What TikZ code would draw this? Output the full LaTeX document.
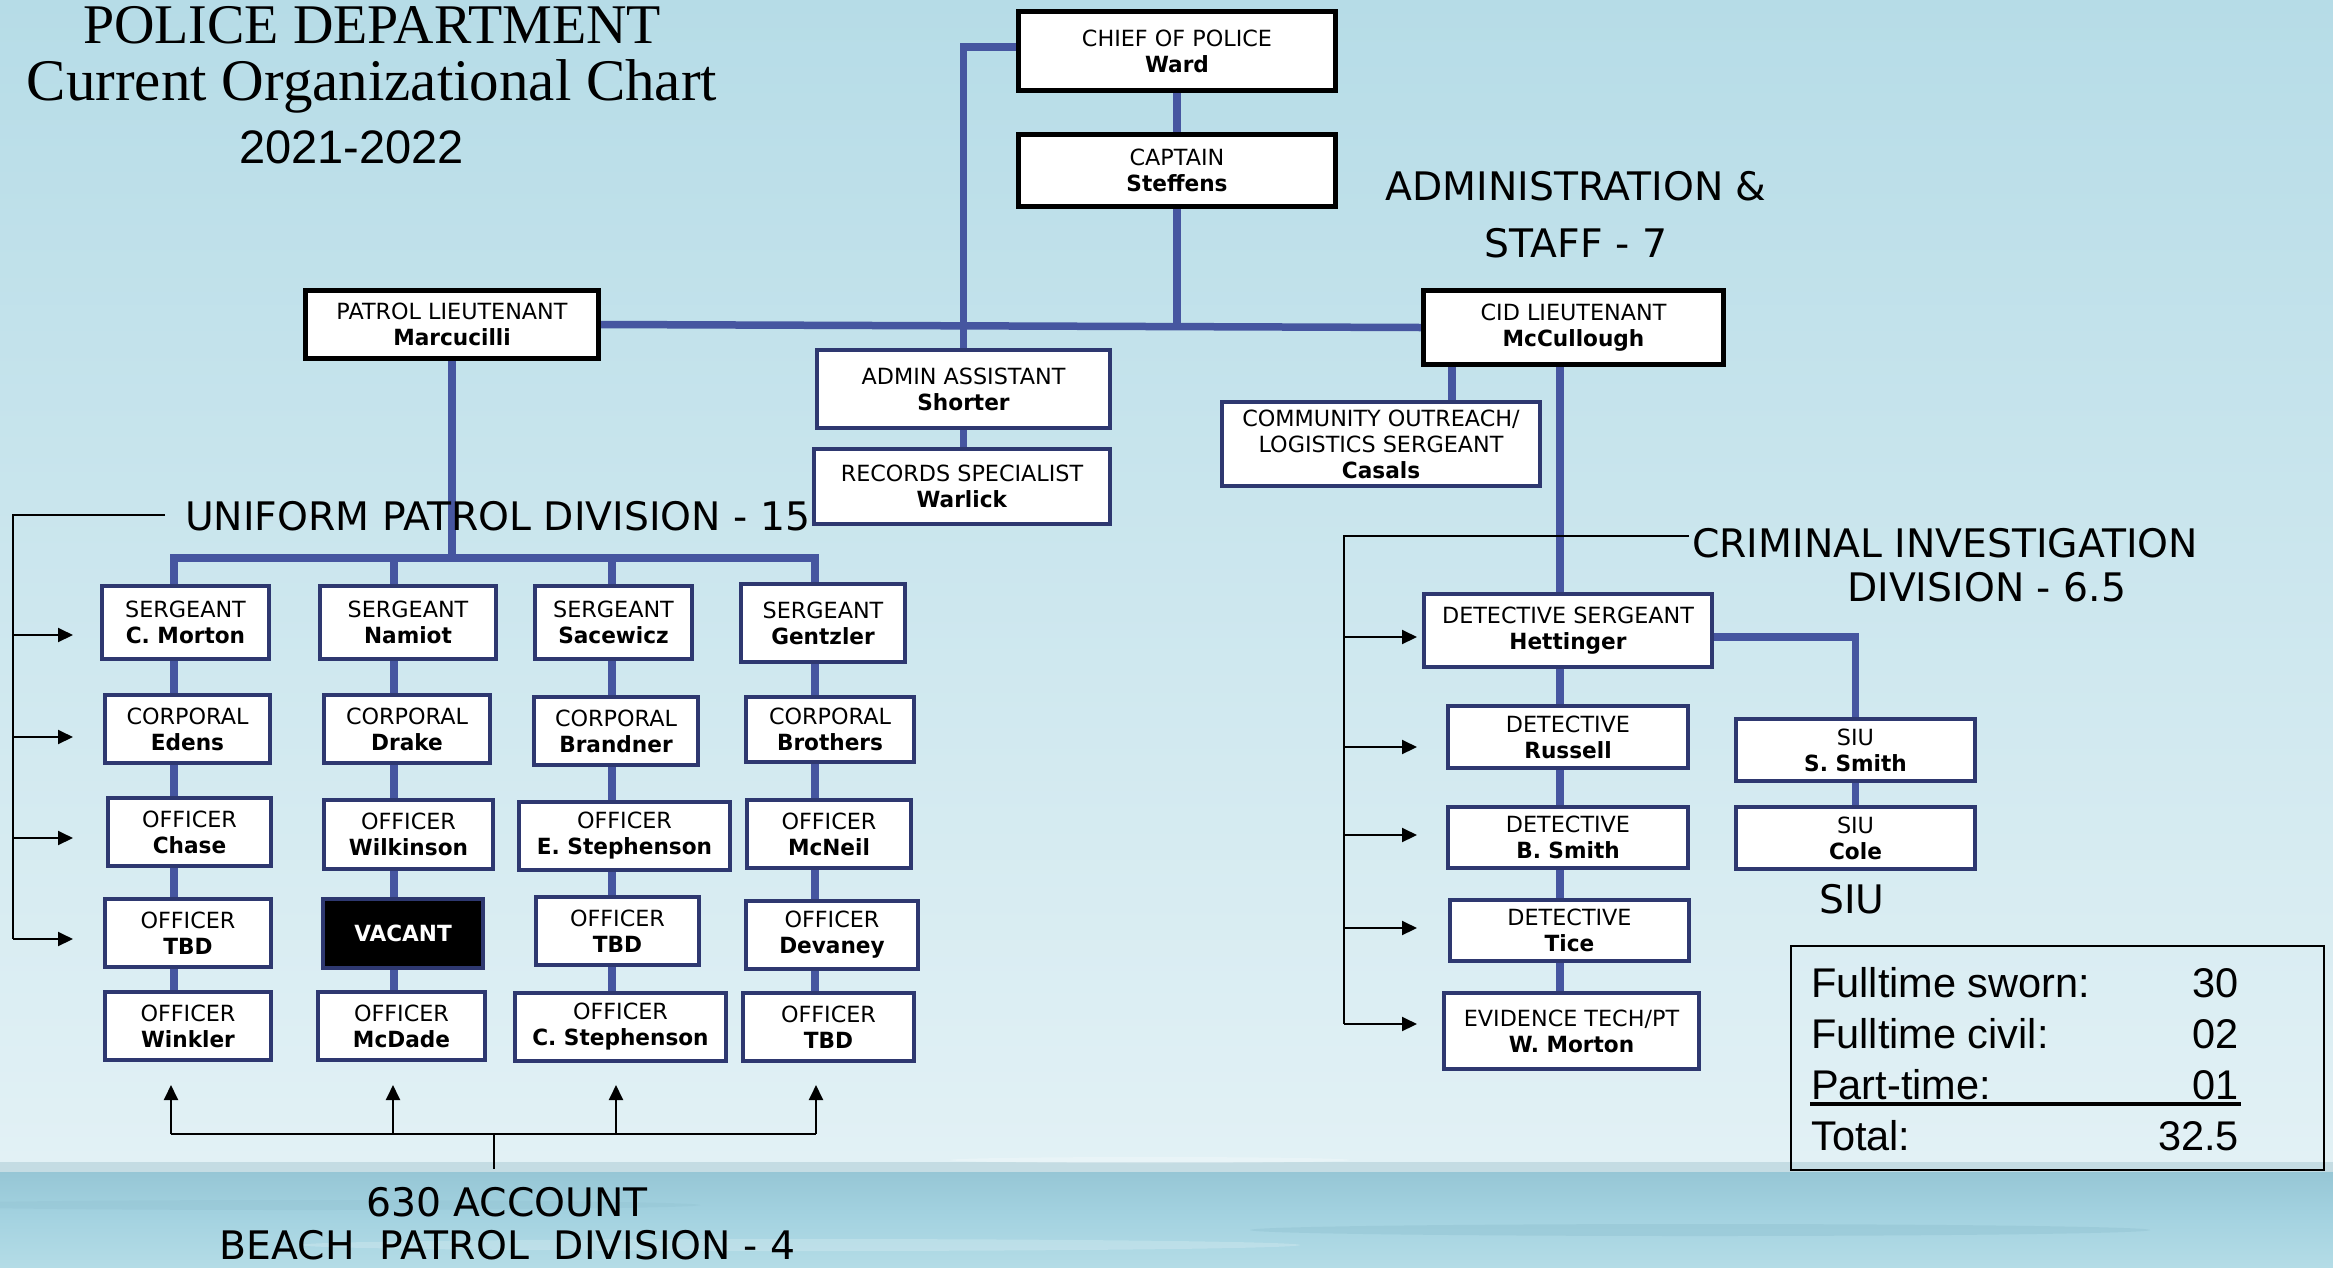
\documentclass[tikz,border=0pt]{standalone}
\usepackage{fontspec}
\newfontfamily\bxf{DejaVu Sans}[BoldFeatures={FakeStretch=0.97}]
\newfontfamily\lblf{DejaVu Sans}
\newfontfamily\ttlf{Liberation Serif}
\newfontfamily\arf{Liberation Sans}
\usetikzlibrary{arrows.meta,calc}
\pgfdeclarelayer{bg}\pgfdeclarelayer{lines}\pgfsetlayers{bg,lines,main}
\definecolor{bluel}{RGB}{70,86,160}
\definecolor{navy}{RGB}{46,56,112}
\definecolor{bgtop}{RGB}{182,220,231}
\definecolor{bgbot}{RGB}{226,241,245}
\definecolor{seagray}{RGB}{196,220,227}
\definecolor{seaA}{RGB}{150,198,213}
\definecolor{seaB}{RGB}{163,210,224}
\definecolor{seaC}{RGB}{180,220,230}
\tikzset{
 bxbase/.style={draw, fill=white, inner sep=0pt, align=center, font=\bxf\fontsize{22.3}{26}\selectfont},
 kbox/.style={bxbase, draw=black, line width=5pt},
 nbox/.style={bxbase, draw=navy, line width=4pt},
 vbox/.style={bxbase, draw=navy, fill=black, text=white, line width=4pt},
 bl/.style={draw=bluel, line width=7.5pt},
 tline/.style={draw=black, line width=2pt},
 arr/.style={tline, -{Triangle[length=15pt,width=14pt]}},
 lbl/.style={font=\lblf\fontsize{39.3}{46}\selectfont, inner sep=0pt},
 tf/.style={font=\arf\fontsize{41.5}{46}\selectfont, inner sep=0pt},
}
\begin{document}
\begin{tikzpicture}[x=1pt,y=-1pt]
\useasboundingbox (0,0) rectangle (2333,1267);
\begin{pgfonlayer}{bg}
\shade[top color=bgtop, bottom color=bgbot] (0,0) rectangle (2333,1164);
\fill[seagray] (0,1162) rectangle (2333,1173);
\shade[top color=seaA, bottom color=seaB] (0,1172) rectangle (2333,1215);
\shade[top color=seaB, bottom color=seaC] (0,1215) rectangle (2333,1267);
\fill[white, opacity=0.25] (1150,1160) ellipse (200 and 3);
\fill[seaA, opacity=0.6] (1700,1230) ellipse (450 and 6);
\fill[seaA, opacity=0.5] (300,1205) ellipse (400 and 5);
\fill[white, opacity=0.2] (800,1245) ellipse (500 and 6);
\end{pgfonlayer}

% title
\node[font=\ttlf\fontsize{56}{60}\selectfont, anchor=base, inner sep=0] (tl1) at (372,43) {POLICE DEPARTMENT};
\node[font=\ttlf\fontsize{59}{60}\selectfont, anchor=base, inner sep=0] (tl2) at (372,100) {Current Organizational Chart};
\node[font=\arf\fontsize{47}{50}\selectfont, anchor=base, inner sep=0] (tl3) at (351.5,163) {2021-2022};

% top boxes
\node[kbox, minimum width=317, minimum height=79] (chief) at (1177,51) {CHIEF OF POLICE\\\textbf{Ward}};
\node[kbox, minimum width=317, minimum height=72] (capt) at (1177,170.5) {CAPTAIN\\\textbf{Steffens}};
\node[kbox, minimum width=293, minimum height=68] (plt) at (452,324.5) {PATROL LIEUTENANT\\\textbf{Marcucilli}};
\node[kbox, minimum width=300, minimum height=74] (cid) at (1573.5,327.5) {CID LIEUTENANT\\\textbf{McCullough}};
\node[nbox, minimum width=293, minimum height=78] (admin) at (963.5,389) {ADMIN ASSISTANT\\\textbf{Shorter}};
\node[nbox, minimum width=296, minimum height=75] (rec) at (962,486.5) {RECORDS SPECIALIST\\\textbf{Warlick}};
\node[nbox, minimum width=318, minimum height=84] (comm) at (1381,444) {COMMUNITY OUTREACH/\\LOGISTICS SERGEANT\\\textbf{Casals}};

% CID boxes
\node[nbox, minimum width=288, minimum height=73] (ds) at (1568,630.5) {DETECTIVE SERGEANT\\\textbf{Hettinger}};
\node[nbox, minimum width=240, minimum height=62] (rus) at (1568,737) {DETECTIVE\\\textbf{Russell}};
\node[nbox, minimum width=240, minimum height=61] (bsm) at (1568,837.5) {DETECTIVE\\\textbf{B. Smith}};
\node[nbox, minimum width=239, minimum height=61] (tice) at (1569.5,930.5) {DETECTIVE\\\textbf{Tice}};
\node[nbox, minimum width=255, minimum height=76] (evt) at (1571.5,1031) {EVIDENCE TECH/PT\\\textbf{W. Morton}};
\node[nbox, minimum width=239, minimum height=62] (siu1) at (1855.5,750) {SIU\\\textbf{S. Smith}};
\node[nbox, minimum width=239, minimum height=62] (siu2) at (1855.5,838) {SIU\\\textbf{Cole}};

% patrol grid
\node[nbox, minimum width=167, minimum height=73] (cm) at (185.5,622.5) {SERGEANT\\\textbf{C. Morton}};
\node[nbox, minimum width=165, minimum height=68] (ed) at (187.5,729) {CORPORAL\\\textbf{Edens}};
\node[nbox, minimum width=163, minimum height=68] (ch) at (189.5,832) {OFFICER\\\textbf{Chase}};
\node[nbox, minimum width=166, minimum height=68] (ta) at (188,933) {OFFICER\\\textbf{TBD}};
\node[nbox, minimum width=166, minimum height=68] (wi) at (188,1026) {OFFICER\\\textbf{Winkler}};

\node[nbox, minimum width=176, minimum height=73] (na) at (408,622.5) {SERGEANT\\\textbf{Namiot}};
\node[nbox, minimum width=166, minimum height=68] (dr) at (407,729) {CORPORAL\\\textbf{Drake}};
\node[nbox, minimum width=169, minimum height=69] (wk) at (408.5,834.5) {OFFICER\\\textbf{Wilkinson}};
\node[vbox, minimum width=160, minimum height=69] (va) at (403,933.5) {\textbf{VACANT}};
\node[nbox, minimum width=167, minimum height=68] (md) at (401.5,1026) {OFFICER\\\textbf{McDade}};

\node[nbox, minimum width=157, minimum height=73] (sa) at (613.5,622.5) {SERGEANT\\\textbf{Sacewicz}};
\node[nbox, minimum width=164, minimum height=68] (br) at (616,731) {CORPORAL\\\textbf{Brandner}};
\node[nbox, minimum width=211, minimum height=68] (es) at (624.5,836) {OFFICER\\\textbf{E. Stephenson}};
\node[nbox, minimum width=163, minimum height=68] (tb) at (617.5,931) {OFFICER\\\textbf{TBD}};
\node[nbox, minimum width=211, minimum height=68] (cs) at (620.5,1027) {OFFICER\\\textbf{C. Stephenson}};

\node[nbox, minimum width=164, minimum height=78] (ge) at (823,623) {SERGEANT\\\textbf{Gentzler}};
\node[nbox, minimum width=168, minimum height=65] (bo) at (830,729.5) {CORPORAL\\\textbf{Brothers}};
\node[nbox, minimum width=164, minimum height=68] (mn) at (829,834) {OFFICER\\\textbf{McNeil}};
\node[nbox, minimum width=172, minimum height=68] (de) at (832,935) {OFFICER\\\textbf{Devaney}};
\node[nbox, minimum width=171, minimum height=68] (tc) at (828.5,1027) {OFFICER\\\textbf{TBD}};

% labels
\node[lbl, anchor=base] (adm1) at (1576,200) {ADMINISTRATION \&};
\node[lbl, anchor=base] (adm2) at (1576,257) {STAFF - 7};
\node[lbl, anchor=base west] (upd) at (185,530) {UNIFORM PATROL DIVISION - 15};
\node[lbl, anchor=base west] (cidl1) at (1692,557) {CRIMINAL INVESTIGATION};
\node[lbl, anchor=base west] (cidl2) at (1847,601) {DIVISION - 6.5};
\node[lbl, anchor=base] (siul) at (1852,913) {SIU};
\node[lbl, anchor=base] (acc) at (507,1216) {630 ACCOUNT};
\node[lbl, anchor=base] (bpd) at (507.5,1259) {BEACH\ \ PATROL\ \ DIVISION - 4};

% totals
\node[draw=black, line width=2pt, minimum width=533, minimum height=224, inner sep=0] (tot) at (2057.5,1058) {};
\node[tf, anchor=base west] (r1) at (1811,997) {Fulltime sworn:};
\node[tf, anchor=base east] (v1) at (2239,997) {30};
\node[tf, anchor=base west] (r2) at (1811,1048) {Fulltime civil:};
\node[tf, anchor=base east] (v2) at (2239,1048) {02};
\node[tf, anchor=base west] (r3) at (1811,1099) {Part-time:};
\node[tf, anchor=base east] (v3) at (2239,1099) {01};
\node[tf, anchor=base west] (r4) at (1811,1150) {Total:};
\node[tf, anchor=base east] (v4) at (2239,1150) {32.5};
\coordinate (ul1) at (1810,1104);
\coordinate (ul2) at (2241,1104);
\draw[line width=3.5pt] (ul1) -- (ul2);

% connectors
\coordinate (bus1) at (174,558);
\coordinate (bus2) at (394,558);
\coordinate (bus3) at (612,558);
\coordinate (bus4) at (815,558);
\coordinate (cx1) at (1452,0);
\coordinate (cx2) at (1560,0);
\begin{pgfonlayer}{lines}
\draw[bl] (chief.south) -- (chief.south |- capt.north);
\draw[bl] ($(chief.west)+(0,-4)$) -| (admin.north);
\draw[bl] (admin.south) -- (admin.south |- rec.north);
\draw[bl] (plt.east) -- (cid.west);
\draw[bl] (capt.south) -- (capt.south |- 0,326);
\draw[bl] (plt.south) -- (plt.south |- bus1);
\draw[bl] (bus1 |- wi.north) -- (bus1) -- (bus4) -- (bus4 |- tc.north);
\draw[bl] (bus2) -- (bus2 |- md.north);
\draw[bl] (bus3) -- (bus3 |- cs.north);
\draw[bl] (cid.south -| cx1) -- (cx1 |- comm.north);
\draw[bl] (cid.south -| cx2) -- (cx2 |- evt.north);
\draw[bl] (ds.east |- 0,637) -| (siu1.north);
\draw[bl] (siu1.south) -- (siu2.north);
% thin lines
\coordinate (pa) at (165,515);
\coordinate (pb) at (13,515);
\coordinate (pc) at (13,939);
\draw[tline] (pa) -- (pb) -- (pc);
\foreach \y in {635,737,838,939} \draw[arr] (13,\y) -- (73,\y);
\coordinate (ca) at (1689,536);
\coordinate (cb) at (1344,536);
\coordinate (cc) at (1344,1024);
\draw[tline] (ca) -- (cb) -- (cc);
\foreach \y in {637,747,835,928,1024} \draw[arr] (1344,\y) -- (1417,\y);
\coordinate (ba) at (171,1134);
\coordinate (bb) at (816,1134);
\coordinate (bs) at (494,1169);
\draw[tline] (ba) -- (bb);
\draw[line width=1.5pt] (bs |- ba) -- (bs);
\foreach \x in {171,393,616,816} \draw[arr] (\x,1134) -- (\x,1085);
\end{pgfonlayer}
\end{tikzpicture}
\end{document}
